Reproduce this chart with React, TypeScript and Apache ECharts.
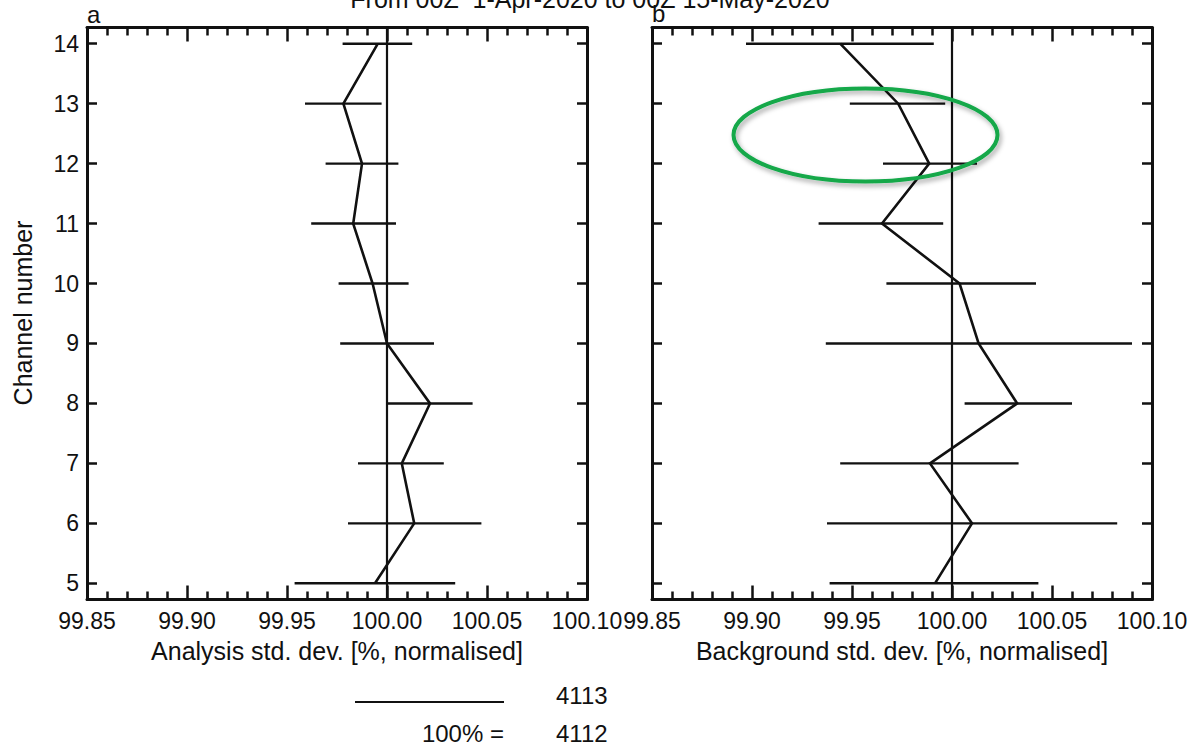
import React, { useEffect, useRef } from "react";
import * as echarts from "echarts";

const channels = [5, 6, 7, 8, 9, 10, 11, 12, 13, 14];

const analysisMean = [99.994, 100.0136, 100.0074, 100.0215, 100.0, 99.9928, 99.9831, 99.9875, 99.9782, 99.9954];
const analysisLow = [99.9538, 99.9805, 99.9855, 100.0003, 99.9766, 99.9758, 99.9621, 99.9693, 99.959, 99.9778];
const analysisHigh = [100.0341, 100.0472, 100.0284, 100.0428, 100.0235, 100.0108, 100.0045, 100.0057, 99.9973, 100.0126];

const backgroundMean = [99.9915, 100.01, 99.989, 100.0326, 100.0133, 100.0038, 99.965, 99.9886, 99.9731, 99.9441];
const backgroundLow = [99.9388, 99.9375, 99.9441, 100.0063, 99.9369, 99.9672, 99.9333, 99.9655, 99.9489, 99.897];
const backgroundHigh = [100.0432, 100.0826, 100.0333, 100.06, 100.09, 100.042, 99.9956, 100.0125, 99.9966, 99.9909];

const xMin = 99.85;
const xMax = 100.1;
const xStep = 0.05;
const yMin = 4.73;
const yMax = 14.27;
const referenceValue = 100.0;

const titleText = "From 00Z  1-Apr-2020 to 00Z 15-May-2020";
const xNameA = "Analysis std. dev. [%, normalised]";
const xNameB = "Background std. dev. [%, normalised]";
const yName = "Channel number";
const countTop = "4113";
const countBottom = "4112";
const percentLabel = "100% =";

const FONT = "'Liberation Sans', Arial, Helvetica, sans-serif";
const INK = "#111";

export default function App() {
  const ref = useRef<HTMLDivElement>(null);

  useEffect(() => {
    document.body.style.margin = "0";
    if (!ref.current) return;
    const chart = echarts.init(ref.current, null, { renderer: "svg" });

    const grids = [
      { left: 87, top: 27.5, width: 500, height: 572 },
      { left: 652, top: 27.5, width: 500, height: 572 },
    ];

    const xAxisFor = (gridIndex: number, position: "top" | "bottom") => ({
      type: "value",
      gridIndex,
      position,
      min: xMin,
      max: xMax,
      interval: xStep,
      axisLine: { show: true, onZero: false, lineStyle: { color: INK, width: 3 } },
      splitLine: { show: false },
      axisTick: { show: true, inside: true, length: 14, lineStyle: { color: INK, width: 2.5 } },
      minorTick: { show: true, splitNumber: 5, length: 8, lineStyle: { color: INK, width: 2.5 } },
      axisLabel: {
        show: position === "bottom",
        margin: 10,
        color: INK,
        fontFamily: FONT,
        fontSize: 23,
        formatter: (v: number) => v.toFixed(2),
      },
    });

    const yAxisFor = (gridIndex: number, position: "left" | "right", labels: boolean) => ({
      type: "value",
      gridIndex,
      position,
      min: yMin,
      max: yMax,
      axisLine: { show: true, onZero: false, lineStyle: { color: INK, width: 3 } },
      splitLine: { show: false },
      axisTick: {
        show: true,
        inside: true,
        length: 10,
        customValues: channels,
        lineStyle: { color: INK, width: 2.5 },
      },
      axisLabel: {
        show: labels,
        customValues: channels,
        margin: 8,
        color: INK,
        fontFamily: FONT,
        fontSize: 23,
      },
    });

    const errorBars = (xAxisIndex: number, yAxisIndex: number, low: number[], high: number[]) => ({
      type: "custom",
      xAxisIndex,
      yAxisIndex,
      silent: true,
      encode: { x: [0, 1], y: 2 },
      data: channels.map((c, i) => [low[i], high[i], c]),
      renderItem: (_params: any, api: any) => {
        const a = api.coord([api.value(0), api.value(2)]);
        const b = api.coord([api.value(1), api.value(2)]);
        return {
          type: "line",
          shape: { x1: a[0], y1: a[1], x2: b[0], y2: b[1] },
          style: { stroke: INK, lineWidth: 2.4 },
        };
      },
    });

    const meanLine = (xAxisIndex: number, yAxisIndex: number, mean: number[]) => ({
      type: "line",
      xAxisIndex,
      yAxisIndex,
      silent: true,
      symbol: "none",
      lineStyle: { color: INK, width: 2.6, join: "miter" },
      data: channels.map((c, i) => [mean[i], c]),
      markLine: {
        silent: true,
        symbol: ["none", "none"],
        label: { show: false },
        lineStyle: { color: INK, width: 2.2, type: "solid" },
        data: [{ xAxis: referenceValue }],
      },
    });

    const txt = (x: number, y: number, text: string, align: string, size = 24, extra: any = {}) => ({
      type: "text",
      x,
      y,
      z: 50,
      silent: true,
      ...extra,
      style: {
        text,
        fill: INK,
        font: `${size}px ${FONT}`,
        align,
        verticalAlign: "middle",
      },
    });

    chart.setOption({
      animation: false,
      backgroundColor: "#fff",
      grid: grids.map((g) => ({ ...g, show: false, containLabel: false })),
      xAxis: [xAxisFor(0, "bottom"), xAxisFor(0, "top"), xAxisFor(1, "bottom"), xAxisFor(1, "top")],
      yAxis: [yAxisFor(0, "left", true), yAxisFor(0, "right", false), yAxisFor(1, "left", false), yAxisFor(1, "right", false)],
      series: [
        errorBars(0, 0, analysisLow, analysisHigh),
        meanLine(0, 0, analysisMean),
        errorBars(2, 2, backgroundLow, backgroundHigh),
        meanLine(2, 2, backgroundMean),
      ],
      graphic: [
        txt(590, -1.5, titleText, "center", 25),
        txt(87, 14, "a", "left", 24),
        txt(652, 13, "b", "left", 24),
        txt(337, 651, xNameA, "center", 25),
        txt(902, 651, xNameB, "center", 25),
        txt(23, 313, yName, "center", 25, { rotation: Math.PI / 2 }),
        {
          type: "line",
          silent: true,
          shape: { x1: 355, y1: 702, x2: 504, y2: 702 },
          style: { stroke: INK, lineWidth: 2.2 },
        },
        txt(556, 695, countTop, "left", 24),
        txt(504, 733, percentLabel, "right", 24),
        txt(556, 733, countBottom, "left", 24),
        {
          type: "ellipse",
          silent: true,
          z: 100,
          shape: { cx: 865.5, cy: 135, rx: 132, ry: 46.5 },
          style: {
            fill: "none",
            stroke: "#12A84A",
            lineWidth: 4,
            shadowBlur: 5,
            shadowColor: "rgba(0,0,0,0.35)",
            shadowOffsetX: 2,
            shadowOffsetY: 3,
          },
        },
      ],
    });

    return () => chart.dispose();
  }, []);

  return <div ref={ref} style={{ width: 1194, height: 746 }} />;
}
